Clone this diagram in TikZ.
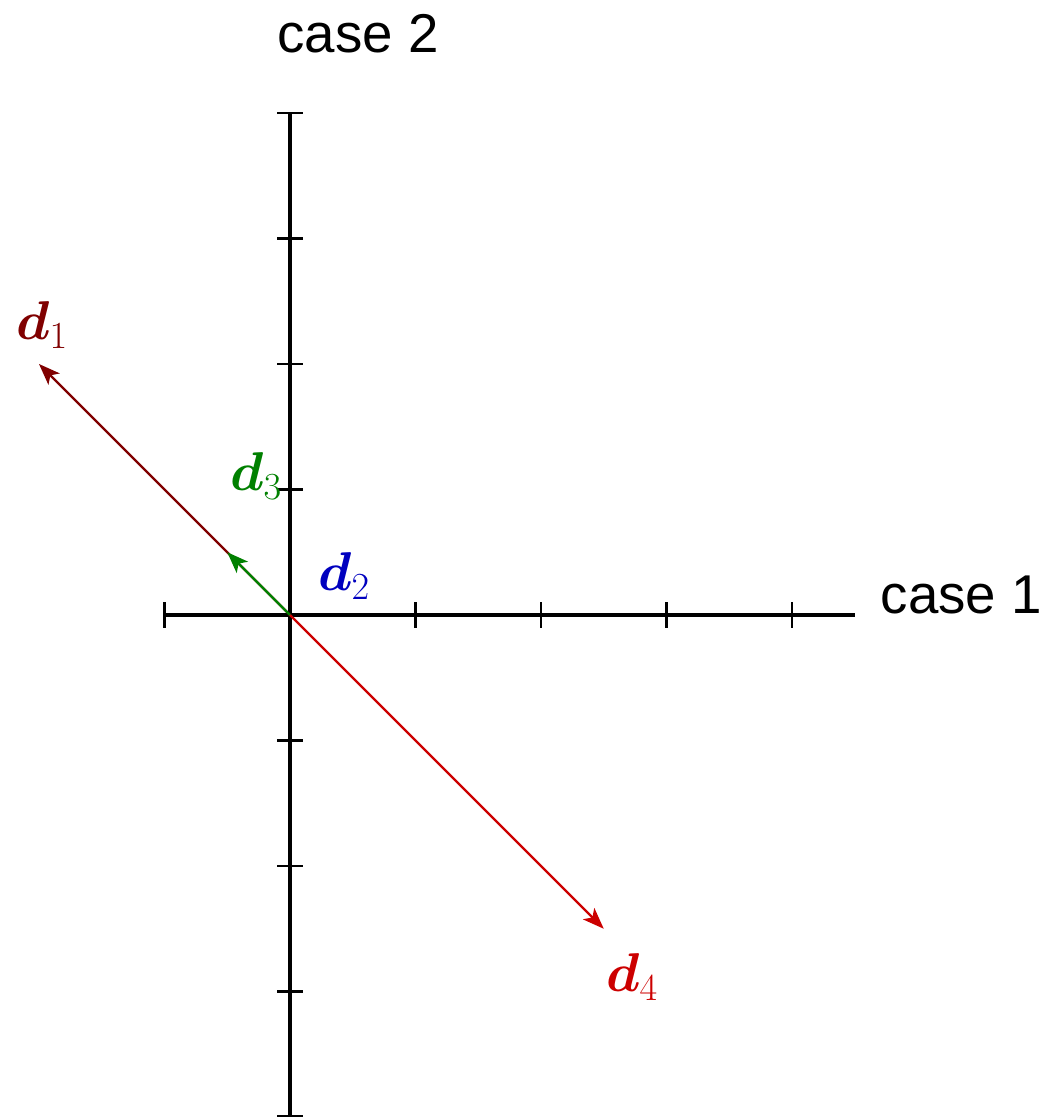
\RequirePackage{fix-cm}
\documentclass[tikz,border=0pt]{standalone}
\usepackage{amsmath,bm}
\usepackage[no-math]{fontspec}
\newfontfamily\casefont{Liberation Sans}
\usetikzlibrary{arrows.meta}
\definecolor{cdone}{RGB}{128,0,0}
\definecolor{cdtwo}{RGB}{0,0,191}
\definecolor{cdthree}{RGB}{0,128,0}
\definecolor{cdfour}{RGB}{204,0,0}
\begin{document}
\begin{tikzpicture}[x=0.75pt,y=-0.75pt,
  axisline/.style={line width=2.8pt,black},
  tickline/.style={line width=1.8pt,black},
  endtick/.style={line width=2.8pt,black},
  vec/.style={line width=1.6pt,-{Stealth[length=16pt,width=12pt,inset=4pt]}},
  mlab/.style={inner sep=0pt,font=\fontsize{41}{49}\selectfont},
  clab/.style={inner sep=0pt,font=\fontsize{41}{49}\selectfont\casefont}]
\useasboundingbox (0,0) rectangle (1044,1117);
\begin{scope}[shift={(290,615)},x=94.125pt,y=94.125pt]
  \coordinate (O) at (0,0);
  \coordinate (xl) at (-1,0);
  \coordinate (xr) at (4.5,0);
  \coordinate (yb) at (0,-4);
  \coordinate (yt) at (0,4);
  \coordinate (tipA) at (-2,2);
  \coordinate (tipC) at (-0.5,0.5);
  \coordinate (tipD) at (2.5,-2.5);
  \draw[axisline] (xl) -- (xr);
  \draw[axisline] (yb) -- (yt);
  \foreach \k in {1,2,3,4} {\draw[tickline] (\k,-0.1) -- (\k,0.1);}
  \draw[endtick] (-1,-0.1) -- (-1,0.1);
  \foreach \k in {-3,-2,-1,1,2,3,4} {\draw[tickline] (-0.1,\k) -- (0.1,\k);}
  \draw[endtick] (-0.1,-4) -- (0.1,-4);
  \draw[vec,cdone] (O) -- (tipA);
  \draw[vec,cdthree] (O) -- (tipC);
  \draw[vec,cdfour] (O) -- (tipD);
\end{scope}
\node[mlab,text=cdone] (lA) at (42,325) {$\boldsymbol{d}_1$};
\node[mlab,text=cdthree] (lC) at (256,476) {$\boldsymbol{d}_3$};
\node[mlab,text=cdtwo] (lB) at (344,576) {$\boldsymbol{d}_2$};
\node[mlab,text=cdfour] (lD) at (632,977) {$\boldsymbol{d}_4$};
\node[clab,anchor=base] (c2) at (358,52) {case 2};
\node[clab,anchor=base east] (c1) at (1042,613) {case 1};
\end{tikzpicture}
\end{document}
